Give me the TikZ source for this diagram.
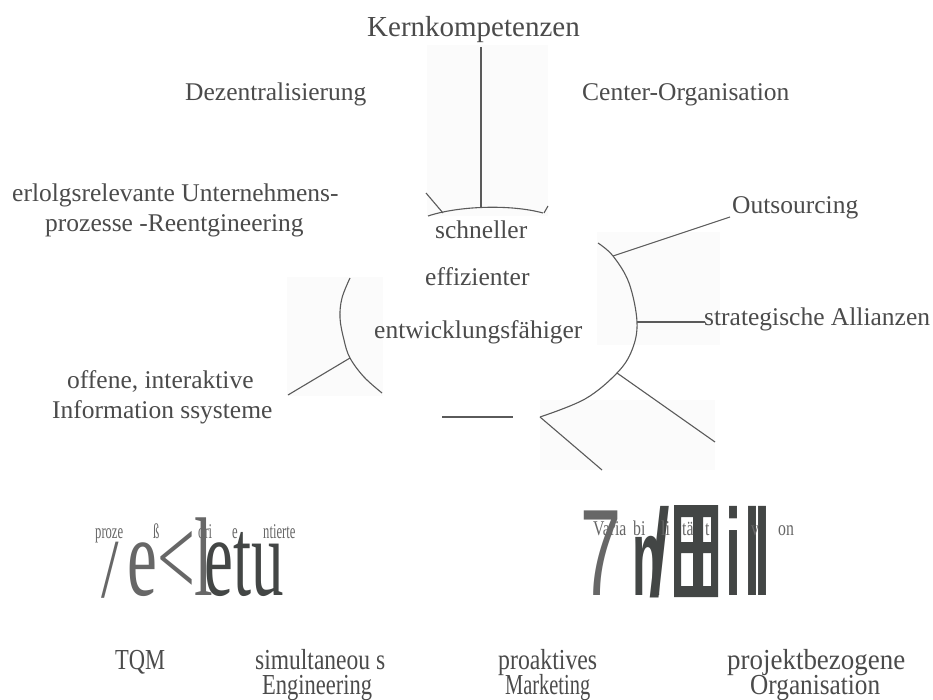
\documentclass[tikz,border=0pt]{standalone}
\usepackage{fontspec}
\setmainfont{Liberation Serif}
\newfontfamily\glyphsans{Liberation Sans}
\newfontfamily\glyphsansbold{Liberation Sans Bold}
\definecolor{ink}{HTML}{4B4B4B}
\definecolor{wire}{HTML}{5A5A5A}
\definecolor{inkdark}{HTML}{434645}
\definecolor{inkmid}{HTML}{676767}
\definecolor{haze}{HTML}{FBFBFB}
\newcommand\fs[1]{\fontsize{#1}{#1}\selectfont}
\newcommand\hsq[2]{\scalebox{#1}[1]{#2}}
\newcommand\wfit[2]{\resizebox{#1}{\height}{#2}}
\begin{document}
\begin{tikzpicture}[x=1pt,y=-1pt,
  lbl/.style={inner sep=0pt, anchor=base west, text=ink, font=\fs{25.5}},
  lowlbl/.style={inner sep=0pt, anchor=base west, text=ink, font=\fs{29}},
  tiny/.style={inner sep=0pt, anchor=base west, text=inkmid, font=\fs{21}},
  big/.style={inner sep=0pt, anchor=base west},
  wire/.style={draw=wire, line width=1.1pt},
  hazepatch/.style={fill=haze, draw=none}]
\path[use as bounding box, fill=white] (0,0) rectangle (933,700);

% faint scan patches
\fill[hazepatch] (427,45) rectangle (548,216);
\fill[hazepatch] (287,277) rectangle (383,396);
\fill[hazepatch] (597,232) rectangle (720,345);
\fill[hazepatch] (540,400) rectangle (715,470);

% labels round the centre
\node[lbl, font=\fs{29}] (kern) at (367,37) {Kernkompetenzen};
\node[lbl] (dez) at (185,101) {Dezentralisierung};
\node[lbl] (center) at (582,101) {Center-Organisation};
\node[lbl] (erf1) at (12,202) {erlolgsrelevante Unternehmens-};
\node[lbl] (erf2) at (45,232) {prozesse -Reentgineering};
\node[lbl] (outs) at (732,214) {Outsourcing};
\node[lbl] (alli) at (704,325) {strategische Allianzen};
\node[lbl] (off1) at (67,388) {offene, interaktive};
\node[lbl] (off2) at (52,418) {Information ssysteme};

% centre words
\node[lbl] (c1) at (435,239) {schneller};
\node[lbl] (c2) at (425,286) {effizienter};
\node[lbl] (c3) at (374,338) {entwicklungsfähiger};

% arcs of the centre
\coordinate (topL) at (428,216);
\coordinate (topM) at (481,208);
\coordinate (topR) at (543,213);
\coordinate (kernTop) at (481,47);
\draw[wire] (topL) .. controls (458,206) and (510,204) .. (topR);
\draw[wire] (kernTop) -- (topM);
\coordinate (dezStubA) at (426,193);
\coordinate (dezStubB) at (443,213);
\draw[wire] (dezStubA) -- (dezStubB);
\coordinate (cenStubA) at (544,213);
\coordinate (cenStubB) at (548,206);
\draw[wire] (cenStubA) -- (cenStubB);

\coordinate (rOut) at (613,256);
\coordinate (rAll) at (637,322);
\coordinate (rLow) at (617,373);
\coordinate (rEnd) at (540,417);
\draw[wire] plot[smooth, tension=0.6] coordinates
  {(598,243) (rOut) (629,283) (rAll) (632,350) (rLow) (585,399) (rEnd)};

\coordinate (lInf) at (350,358);
\draw[wire] plot[smooth, tension=0.6] coordinates
  {(350,278) (342,298) (340,318) (344,340) (lInf) (364,377) (382,393)};

% spokes
\coordinate (outsEnd) at (730,217);
\coordinate (alliEnd) at (705,322);
\coordinate (lowEnd) at (715,442);
\coordinate (botEnd) at (602,470);
\coordinate (infEnd) at (288,395);
\coordinate (barA) at (442,417);
\coordinate (barB) at (513,417);
\draw[wire] (rOut) -- (outsEnd);
\draw[wire] (rAll) -- (alliEnd);
\draw[wire] (rLow) -- (lowEnd);
\draw[wire] (rEnd) -- (botEnd);
\draw[wire] (lInf) -- (infEnd);
\draw[wire] (barA) -- (barB);

% large glyph row, left
\node[big, text=inkmid, font=\fs{84}] (gslash) at (101,597) {\hsq{0.75}{/}};
\node[big, text=inkmid, font=\fs{112}] (gel) at (127,595) {\hsq{0.6}{e<l}};
\node[big, text=inkdark, font=\fs{112}] (getu) at (204,595) {\hsq{0.58}{etu}};
\node[tiny] (p1) at (95,538) {\hsq{0.6}{proze}};
\node[tiny] (p2) at (153,538) {\hsq{0.6}{ß}};
\node[tiny] (p3) at (198,538) {\hsq{0.6}{ori}};
\node[tiny] (p4) at (232,538) {\hsq{0.6}{e}};
\node[tiny] (p5) at (263,538) {\hsq{0.6}{ntierte}};

% large glyph row, right
\node[big, text=inkmid, font=\glyphsans\fs{123}] (g7) at (580,595) {\hsq{0.6}{7}};
\node[big, text=inkdark, font=\glyphsansbold\fs{110}] (gn) at (632,595) {\hsq{0.45}{n}};
\node[big, text=inkdark, font=\glyphsansbold\fs{123}] (gsl) at (649,595) {\hsq{0.6}{/}};
\fill[inkdark, even odd rule] (674,505) rectangle (718,597)
  (681,517) rectangle (693,542) (703,517) rectangle (711,542)
  (681,553) rectangle (693,586) (703,553) rectangle (711,586);
\node[big, text=inkdark, font=\glyphsansbold\fs{123}] (gi) at (725,595) {\hsq{0.47}{i}};
\node[big, text=inkdark, font=\glyphsansbold\fs{123}] (gl1) at (744,595) {\hsq{0.47}{l}};
\node[big, text=inkdark, font=\glyphsansbold\fs{123}] (gl2) at (754,595) {\hsq{0.47}{l}};
\node[tiny] (v1) at (593,535) {\hsq{0.75}{Varia}};
\node[tiny] (v2) at (633,535) {\hsq{0.75}{bi}};
\node[tiny] (v3) at (661,535) {\hsq{0.75}{li}};
\node[tiny] (v4) at (682,535) {\hsq{0.75}{tä}};
\node[tiny] (v5) at (705,535) {\hsq{0.75}{t}};
\node[tiny] (v6) at (751,535) {\hsq{0.75}{v}};
\node[tiny] (v7) at (778,535) {\hsq{0.75}{on}};

% bottom row
\node[lowlbl] (tqm) at (115,669) {\wfit{50pt}{TQM}};
\node[lowlbl] (sim1) at (255,669) {\wfit{130pt}{simultaneou s}};
\node[lowlbl] (sim2) at (262,694) {\wfit{110pt}{Engineering}};
\node[lowlbl] (pro1) at (498,669) {\wfit{99pt}{proaktives}};
\node[lowlbl] (pro2) at (505,694) {\wfit{85pt}{Marketing}};
\node[lowlbl] (prj1) at (727,669) {\wfit{178pt}{projektbezogene}};
\node[lowlbl] (prj2) at (750,694) {\wfit{130pt}{Organisation}};
\end{tikzpicture}
\end{document}
